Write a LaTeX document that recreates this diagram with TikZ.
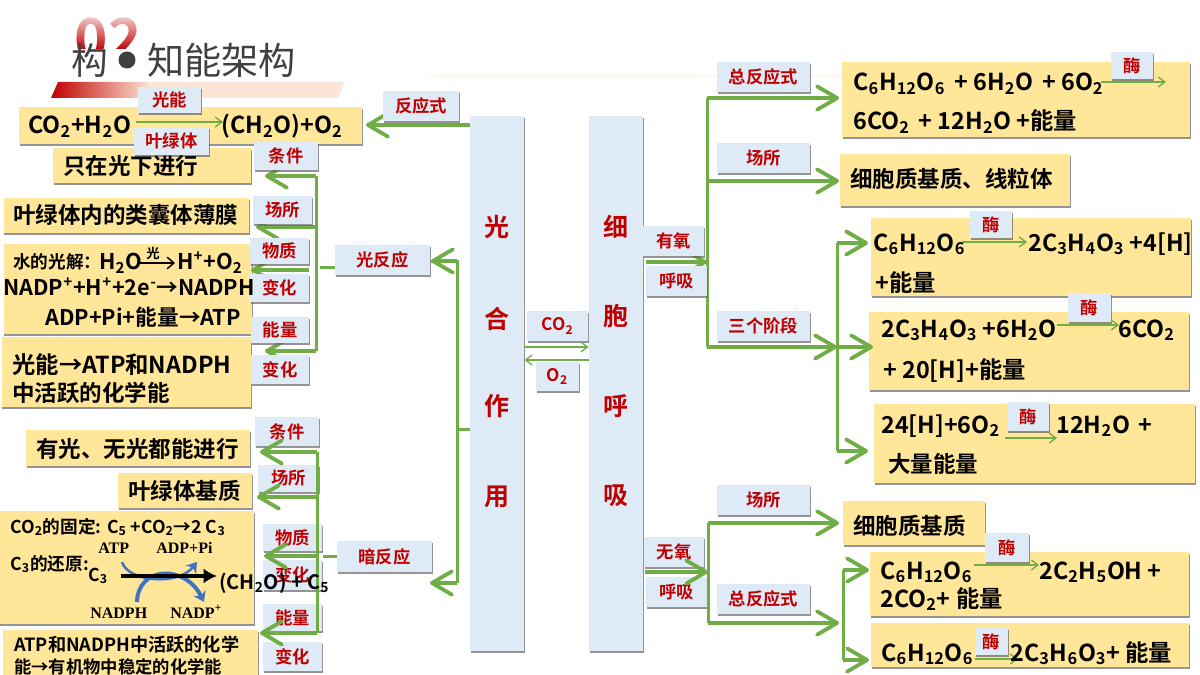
\documentclass[tikz,border=0pt]{standalone}
\usepackage{fontspec}
\setmainfont{Noto Sans CJK SC}[BoldFont=Noto Sans CJK SC Bold]
\newfontfamily\timesfont{Liberation Serif}
\usepackage{tikz}
\usetikzlibrary{arrows.meta,shadows,fadings}

\definecolor{leaf}{HTML}{70AD47}
\definecolor{plate}{HTML}{FFE699}
\definecolor{tagblue}{HTML}{DEEAF6}
\definecolor{tagred}{HTML}{C00000}
\definecolor{peach}{HTML}{FBE5D6}
\definecolor{inkblue}{HTML}{3F73BD}

\newcommand{\s}[1]{\textsubscript{#1}}
\newcommand{\us}[1]{\textsuperscript{#1}}
\newcommand{\gap}{\hspace{2.2pt}}

\begin{document}
\begin{tikzpicture}[
  x=0.6pt,y=-0.6pt,
  softshadow/.style={drop shadow={shadow xshift=0.3pt,shadow yshift=-1.1pt,fill=black!60,opacity=0.7}},
  yellowbox/.style={rectangle,fill=plate,inner sep=0pt,softshadow},
  tag/.style={rectangle,fill=tagblue,inner sep=0pt,softshadow,text=tagred,font=\bfseries\fontsize{10.4}{12}\selectfont},
  bigtag/.style={tag,font=\bfseries\fontsize{15}{18}\selectfont},
  eqtext/.style={anchor=base west,inner sep=0pt,font=\bfseries\fontsize{14}{16}\selectfont},
  cjktext/.style={eqtext,font=\bfseries\fontsize{13.5}{16}\selectfont},
  midtext/.style={eqtext,font=\bfseries\fontsize{13}{15}\selectfont},
  lowtext/.style={eqtext,font=\bfseries\fontsize{10.6}{13}\selectfont},
  serif/.style={anchor=base west,inner sep=0pt,font=\timesfont\bfseries\fontsize{9.6}{11}\selectfont},
  trunk/.style={draw=leaf,line width=1.8pt},
  branch/.style={draw=leaf,line width=2.3pt,-{Straight Barb[length=12pt,width=14pt,line width=2.3pt,round]}},
  thinarrow/.style={draw=leaf,line width=0.8pt,-{Straight Barb[length=4pt,width=6pt,line width=0.8pt]}},
  swirl/.style={draw=inkblue,line width=2.4pt,-{Stealth[length=6pt,width=8pt]}}
]

\def\tags#1#2{
  \foreach \n/\xa/\ya/\xb/\yb/\t in {#2}
    \node[#1,minimum width={(\xb-\xa)*0.6pt},minimum height={(\yb-\ya)*0.6pt}] (\n) at ({(\xa+\xb)/2},{(\ya+\yb)/2}) {\t};
}

\useasboundingbox (0,0) rectangle (1200,675);

% title
\node[anchor=base,inner sep=0pt,text=tagred,font=\bfseries\fontsize{34}{36}\selectfont] (num) at (108,60) {02};
\fill[white,path fading=south] (70,8) rectangle (145,50);
\fill[white] (70,49) rectangle (145,66);
\node[anchor=base west,inner sep=0pt,text=black!75,font=\fontsize{22}{26}\selectfont] (tl) at (71,75) {构};
\fill[black!75] (127,60) circle (8.5);
\node[anchor=base west,inner sep=0pt,text=black!75,font=\fontsize{22.3}{26}\selectfont] (tr) at (147,75) {知能架构};
\shade[left color=tagred,right color=peach] (51,98) -- (58,82) -- (150,82) -- (150,98) -- cycle;
\fill[peach] (150,82) -- (345,82) -- (338,98) -- (150,98) -- cycle;
\draw[peach!60,line width=0.6pt] (428,77) -- (845,77);

% yellow boxes
\tags{yellowbox}{
  pa/19/107/362/144/,pb/53/148/251/183/,pc/4/198/249/233/,pd/4/244/252/334/,pe/2/337/251/407/,
  pf/26/430/250/466/,pg/118/473/252/508/,ph/0/511/254/624/,pi/3/630/258/682/,
  ra/842/62/1190/137/,rb/840/154/1070/206/,rc/871/218/1191/296/,rd/869/312/1189/390/,re/874/404/1195/483/,
  rf/843/501/985/545/,rg/870/552/1189/616/,rh/871/623/1189/667/}

% columns
\tags{bigtag}{photo/470/116/524/651/,resp/589/116/643/651/}
\foreach \n/\y/\t in {ca/227/光,cb/319/合,cc/406/作,cd/497/用}
  \node[text=tagred,inner sep=0pt,font=\bfseries\fontsize{15}{18}\selectfont] (\n) at (497,\y) {\t};
\foreach \n/\y/\t in {ce/227/细,cf/316/胞,cg/406/呼,ch/496/吸}
  \node[text=tagred,inner sep=0pt,font=\bfseries\fontsize{15}{18}\selectfont] (\n) at (616,\y) {\t};

% tags under the arrows
\tags{tag}{
  dsa/255/417/319/446/条件,dsb/258/465/319/492/场所,dsc/263/524/322/551/物质,dsd/263/560/322/590/变化,
  dse/263/604/322/631/能量,dsf/263/642/322/671/变化,
  wa/644/537/704/567/无氧,wb/646/577/707/607/呼吸}

\foreach \n/\x/\y in {
  t1/316/176,t2/316/227,t3/316/351,l1/265/176,l2/256/227,l3/265/351,
  m1/309/270,m2/251/270,m3/320/267,m4/342/267,
  k1/457/261,k2/457/429,k3/457/583,k4/431/261,k5/430/583,k6/470/429,
  d1/317/452,d2/317/497,d3/317/556,d4/317/633,e1/260/452,e2/257/497,e3/264/556,e4/260/633,
  d5/323/556,d6/345/556,
  f1/470/125,f2/366/125,
  u1/707/98,u2/707/181,u3/707/262,u4/707/347,v1/839/98,v2/839/181,v3/837/347,
  u5/646/262,u6/837/243,u7/837/451,u8/868/243,u9/873/347,u10/868/451,
  w1/708/523,w2/708/572,w3/708/623,x1/839/523,x2/839/623,w4/645/572,
  y1/843/570,y2/843/623,y3/843/660,z1/869/570,z2/869/660}
  \coordinate (\n) at (\x,\y);

% green connectors
\draw[trunk] (t1) -- (t3);
\draw[trunk] (k4) -- (k1) -- (k3);
\draw[trunk] (k2) -- (k6);
\draw[trunk] (d1) -- (d4);
\draw[trunk] (u1) -- (u4);
\draw[trunk] (w1) -- (w3);
\draw[trunk] (u6) -- (u7);
\draw[trunk] (y1) -- (y3);
\draw[trunk] (m3) -- (m4);
\draw[trunk] (d5) -- (d6);
\foreach \a/\b in {f1/f2,t1/l1,t2/l2,t3/l3,m1/m2,k1/k4,k3/k5,
  d1/e1,d2/e2,d3/e3,d4/e4,u1/v1,u2/v2,u4/v3,u5/u3,u6/u8,v3/u9,u7/u10,
  w1/x1,w3/x2,w4/w2,y1/z1,y3/z2}
  \draw[branch] (\a) -- (\b);

% tags over the arrows
\tags{tag}{
  ta/138/87/201/113/光能,tb/134/127/209/155/叶绿体,tc/383/91/459/121/反应式,
  lsa/254/142/318/170/条件,lsb/253/196/312/224/场所,lsc/250/238/309/264/物质,lsd/250/274/309/302/变化,
  lse/251/317/309/343/能量,lsf/251/355/309/384/变化,
  lr/335/245/430/275/光反应,dr/337/541/432/572/暗反应,
  co/527/311/588/341/CO\s{2},ox/536/362/579/391/O\s{2},
  ra1/717/62/810/92/总反应式,ra2/717/143/810/173/场所,ra3/643/226/704/256/有氧,ra4/646/266/707/296/呼吸,
  ra5/717/311/810/341/三个阶段,ra6/717/485/810/515/场所,ra7/717/584/810/614/总反应式,
  ma/1111/52/1153/79/酶,mb/970/211/1012/238/酶,mc/1068/293/1111/322/酶,md/1007/402/1049/431/酶,
  me/985/533/1029/562/酶,mf/975/628/1008/655/酶}

% between the columns
\coordinate (g1) at (photo.east |- 0,347);
\coordinate (g2) at (resp.west |- 0,347);
\coordinate (g3) at (resp.west |- 0,360);
\coordinate (g4) at (photo.east |- 0,360);
\draw[thinarrow] (g1) -- (g2);
\draw[thinarrow] (g3) -- (g4);

% small reaction arrows
\foreach \n/\xa/\xb/\y in {q1/136/223/122,q2/1101/1166/82,q3/962/1027/242,q4/1057/1119/325,q5/1005/1057/438,q6/974/1039/565,q7/975/1018/659}{
  \coordinate (\n a) at (\xa,\y);
  \coordinate (\n b) at (\xb,\y);
  \draw[thinarrow] (\n a) -- (\n b);
}

% texts, left
\node[eqtext] (a1) at (28,134) {CO\s{2}+H\s{2}O};
\node[eqtext] (a2) at (221,134) {(CH\s{2}O)+O\s{2}};
\node[cjktext] (a3) at (63,175) {只在光下进行};
\node[cjktext] (a4) at (13,223) {叶绿体内的类囊体薄膜};
\node[lowtext] (b1) at (13,268) {水的光解：};
\node[midtext] (b2) at (99,269) {H\s{2}O};
\node[midtext,font=\bfseries\fontsize{8}{9}\selectfont] (b3) at (146,258) {光};
\coordinate (b4a) at (140,263);
\coordinate (b4b) at (175,263);
\draw[line width=0.9pt,-{Straight Barb[length=4pt,width=7pt,line width=0.9pt]}] (b4a) -- (b4b);
\node[midtext] (b5) at (177,269) {H\us{+}+O\s{2}};
\node[midtext] (b6) at (3,295) {NADP\us{+}+H\us{+}+2e\us{-}→NADPH};
\node[midtext] (b7) at (45,325) {ADP+Pi+能量→ATP};
\node[eqtext] (b8) at (12,373) {光能→ATP和NADPH};
\node[cjktext] (b9) at (12,401) {中活跃的化学能};
\node[cjktext] (a5) at (36,457) {有光、无光都能进行};
\node[cjktext] (a6) at (128,499) {叶绿体基质};
\node[lowtext] (c1) at (10,533) {CO\s{2}的固定: C\s{5} +CO\s{2}→2 C\s{3}};
\node[lowtext] (c2) at (10,570) {C\s{3}的还原:};
\node[lowtext] (c3) at (88,581) {C\s{3}};
\node[serif] (c4) at (98,553) {ATP};
\node[serif] (c5) at (156,553) {ADP+Pi};
\node[serif] (c6) at (90,618) {NADPH};
\node[serif] (c7) at (170,618) {NADP\us{+}};
\node[lowtext,font=\bfseries\fontsize{11.9}{14}\selectfont] (c8) at (219,589) {(CH\s{2}O) + C\s{5}};
\node[lowtext,font=\bfseries\fontsize{10.9}{13}\selectfont] (c9) at (14,651) {ATP和NADPH中活跃的化学};
\node[lowtext,font=\bfseries\fontsize{10.4}{13}\selectfont] (c10) at (14,673) {能→有机物中稳定的化学能};

% reduction of C3
\coordinate (s1) at (122,562);
\coordinate (s2) at (197,562);
\coordinate (s3) at (137,602);
\coordinate (s4) at (204,602);
\coordinate (s5) at (121,576);
\coordinate (s6) at (217,576);
\draw[swirl,line width=1.5pt] (s1) .. controls (128,582) and (178,586) .. (s2);
\draw[swirl] (s3) .. controls (138,566) and (185,564) .. (s4);
\draw[line width=1.9pt,-{Latex[length=8pt,width=9pt]}] (s5) -- (s6);

% texts, right
\node[eqtext] (r1) at (853,91) {C\s{6}H\s{12}O\s{6}\gap{} + 6H\s{2}O\gap{} + 6O\s{2}};
\node[eqtext] (r2) at (853,130) {6CO\s{2}\gap{} + 12H\s{2}O +能量};
\node[cjktext] (r3) at (850,188) {细胞质基质、线粒体};
\node[eqtext] (r4) at (873,251) {C\s{6}H\s{12}O\s{6}};
\node[eqtext] (r5) at (1028,251) {2C\s{3}H\s{4}O\s{3} +4[H]};
\node[eqtext] (r6) at (875,291) {+能量};
\node[eqtext] (r7) at (881,337) {2C\s{3}H\s{4}O\s{3} +6H\s{2}O};
\node[eqtext] (r8) at (1118,337) {6CO\s{2}};
\node[eqtext] (r9) at (883,378) {+ 20[H]+能量};
\node[eqtext] (r10) at (881,433) {24[H]+6O\s{2}};
\node[eqtext] (r11) at (1056,433) {12H\s{2}O\gap{} +};
\node[cjktext] (r12) at (888,472) {大量能量};
\node[cjktext] (r13) at (853,534) {细胞质基质};
\node[eqtext] (r14) at (880,579) {C\s{6}H\s{12}O\s{6}};
\node[eqtext] (r15) at (1039,579) {2C\s{2}H\s{5}OH +};
\node[eqtext] (r16) at (880,607) {2CO\s{2}+ 能量};
\node[eqtext] (r17) at (881,661) {C\s{6}H\s{12}O\s{6}};
\node[eqtext] (r18) at (1010,661) {2C\s{3}H\s{6}O\s{3}+ 能量};

\end{tikzpicture}
\end{document}
